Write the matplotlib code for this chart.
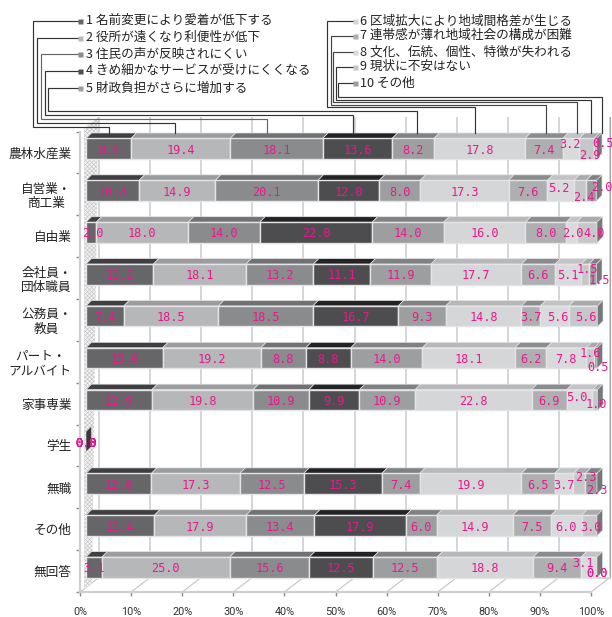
import numpy as np
import matplotlib
matplotlib.use("Agg")
import matplotlib.pyplot as plt
from matplotlib.lines import Line2D
from matplotlib.patches import Polygon
from matplotlib.transforms import Affine2D

plt.rcParams['font.family'] = ['Noto Sans CJK JP', 'DejaVu Sans']
plt.rcParams['hatch.linewidth'] = 0.5

# ---------- data ----------
categories = ['農林水産業', '自営業・\n商工業', '自由業', '会社員・\n団体職員', '公務員・\n教員',
              'パート・\nアルバイト', '家事専業', '学生', '無職', 'その他', '無回答']
series_names = ['1 名前変更により愛着が低下する', '2 役所が遠くなり利便性が低下', '3 住民の声が反映されにくい',
                '4 きめ細かなサービスが受けにくくなる', '5 財政負担がさらに増加する',
                '6 区域拡大により地域間格差が生じる', '7 連帯感が薄れ地域社会の構成が困難',
                '8 文化、伝統、個性、特徴が失われる', '9 現状に不安はない', '10 その他']
row_farm = [8.8, 19.4, 18.1, 13.6, 8.2, 17.8, 7.4, 3.2, 2.9, 0.5]
row_self = [10.4, 14.9, 20.1, 12.0, 8.0, 17.3, 7.6, 5.2, 2.4, 2.0]
row_free = [2.0, 18.0, 14.0, 22.0, 14.0, 16.0, 8.0, 2.0, 4.0, 0.0]
row_office = [13.2, 18.1, 13.2, 11.1, 11.9, 17.7, 6.6, 5.1, 1.5, 1.5]
row_public = [7.4, 18.5, 18.5, 16.7, 9.3, 14.8, 3.7, 5.6, 5.6, 0.0]
row_part = [15.0, 19.2, 8.8, 8.8, 14.0, 18.1, 6.2, 7.8, 1.6, 0.5]
row_home = [12.9, 19.8, 10.9, 9.9, 10.9, 22.8, 6.9, 5.0, 1.0, 0.0]
row_student = [0.0] * 10
row_none = [12.8, 17.3, 12.5, 15.3, 7.4, 19.9, 6.5, 3.7, 2.3, 2.3]
row_other = [13.4, 17.9, 13.4, 17.9, 6.0, 14.9, 7.5, 6.0, 3.0, 0.0]
row_noans = [3.1, 25.0, 15.6, 12.5, 12.5, 18.8, 9.4, 3.1, 0.0, 0.0]
rows = [row_farm, row_self, row_free, row_office, row_public, row_part,
        row_home, row_student, row_none, row_other, row_noans]
x_ticks = list(range(0, 101, 10))
zero_label_rows = [7, 10]

# ---------- style ----------
front_colors = ['#666668', '#b6b7b9', '#8a8b8d', '#4d4d4f', '#9d9ea0',
                '#d5d6d8', '#aeafb1', '#d9dadc', '#c6c7c9', '#9a9b9d']
top_colors = ['#3f3f41', '#9b9c9e', '#707173', '#232325', '#808183',
              '#b7b8ba', '#8b8c8e', '#c2c3c5', '#a9aaac', '#808183']
side_color = '#77787a'
side_empty = '#3a3a3c'
edge = '#e4e4e6'
pink = '#e8188f'
# label nudges in pixels: (row, series): (right, down)
nudges = {(0, 7): (-1, -6), (0, 8): (3.5, 5), (0, 9): (7.5, -7),
          (1, 7): (-2, -4), (1, 8): (4, 5), (1, 9): (10, -5),
          (2, 0): (2, 0), (2, 7): (1, 0), (2, 8): (7, 0),
          (3, 8): (2, -6.5), (3, 9): (6.4, 5),
          (4, 7): (3, 0), (4, 8): (2.5, 0),
          (5, 8): (0, -6), (5, 9): (2.5, 7.7),
          (6, 7): (-3, -4), (6, 8): (1.5, 3),
          (8, 8): (6, -8), (8, 9): (5.7, 5.7),
          (9, 8): (2, 0),
          (10, 7): (-6, -5.5), (10, 8): (0, 4.5), (10, 9): (0, 4.5)}

W, H = 612, 617
fig = plt.figure(figsize=(W / 100, H / 100), dpi=100, facecolor='white')
ax_l, ax_r, ax_t, ax_b = 80, 591, 131.5, 592
ax = fig.add_axes([ax_l / W, 1 - ax_b / H, (ax_r - ax_l) / W, (ax_b - ax_t) / H])
ax.set_xlim(0, 100)
ax.set_ylim(len(categories), 0)
ax.patch.set_alpha(0)
px_x = (ax_r - ax_l) / 100          # pixels per percent
px_y = (ax_b - ax_t) / len(categories)  # pixels per row


def dx(p):
    return p / px_x


def dy(p):
    return p / px_y


n = len(categories)
# axes furniture
for s in ['top', 'right']:
    ax.spines[s].set_visible(False)
for s in ['left', 'bottom']:
    ax.spines[s].set_color('#cfcfd1')
    ax.spines[s].set_linewidth(1.6)
ax.set_xticks(x_ticks)
ax.set_xticklabels([f'{v}%' for v in x_ticks], fontfamily='Roboto', fontsize=7.8, color='#333333')
ax.tick_params(axis='x', length=3, width=1, color='#8c8c8e', pad=8)
ax.set_yticks(np.arange(n) + 0.5)
ax.set_yticklabels(categories, fontsize=9.1, color='#222222', multialignment='center', linespacing=1.15)
ax.tick_params(axis='y', which='major', length=0, pad=6)
ax.set_yticks(np.arange(n + 1), minor=True)
ax.tick_params(axis='y', which='minor', length=3, width=1, color='#8c8c8e')

# back wall, floor, left wall
DEPTH_X, DEPTH_Y = dx(19), dy(14.5)
for v in x_ticks:
    ax.plot([v + DEPTH_X, v + DEPTH_X], [-DEPTH_Y, n - DEPTH_Y], color='#d2d2d4', lw=1.3,
            clip_on=False, zorder=1, solid_capstyle='butt')
    ax.plot([v, v + DEPTH_X], [n, n - DEPTH_Y], color='#c4c4c6', lw=0.8, clip_on=False, zorder=1)
ax.plot([100 + DEPTH_X] * 2, [-DEPTH_Y, n - DEPTH_Y], color='#a6a6a8', lw=0.8, clip_on=False, zorder=1)
ax.plot([DEPTH_X, 100 + DEPTH_X], [n - DEPTH_Y] * 2, color='#d2d2d4', lw=1.3, clip_on=False, zorder=1)
ax.add_patch(Polygon([(dx(4), -dy(3)), (dx(18), -DEPTH_Y), (dx(12), n - dy(9)), (dx(4), n - dy(3))],
                     closed=True, facecolor='#f4f4f4', edgecolor='#c6c6c8', hatch='xxxxxxxx', lw=0,
                     clip_on=False, zorder=1.5))

# bars
FRONT_X, FRONT_Y = dx(6), dy(3.7)
BAR_H = dy(20.5)
TOP_X, TOP_Y = dx(5.5), dy(5.5)
for i, row in enumerate(rows):
    yc = i + 0.5 - FRONT_Y
    y0, y1 = yc - BAR_H / 2, yc + BAR_H / 2
    left = 0.0
    for j, v in enumerate(row):
        x0 = left + FRONT_X
        if v > 0:
            ax.add_patch(Polygon([(x0, y0), (x0 + v, y0), (x0 + v + TOP_X, y0 - TOP_Y), (x0 + TOP_X, y0 - TOP_Y)],
                                 closed=True, facecolor=top_colors[j], edgecolor=edge, lw=0.5,
                                 clip_on=False, zorder=3))
            ax.barh(yc, v, left=x0, height=BAR_H, color=front_colors[j], edgecolor=edge, linewidth=1.0,
                    clip_on=False, zorder=3)
        left += v
    x_end = left + FRONT_X
    ax.add_patch(Polygon([(x_end, y0), (x_end + TOP_X, y0 - TOP_Y), (x_end + TOP_X, y1 - TOP_Y), (x_end, y1)],
                         closed=True, facecolor=side_color if left > 0 else side_empty, edgecolor=edge, lw=0.4,
                         clip_on=False, zorder=3))
    # value labels
    left = 0.0
    for j, v in enumerate(row):
        mid = left + v / 2 + FRONT_X
        left += v
        if v == 0 and i not in zero_label_rows:
            continue
        nx, ny = nudges.get((i, j), (0, 0))
        ax.text(mid + dx(nx), yc + dy(ny + 1.5), f'{v:.1f}', ha='center', va='center',
                family='DejaVu Sans Mono', fontsize=8.6, color=pink, clip_on=False, zorder=5)

# legend with leader lines, laid out in image pixels
pix = Affine2D().scale(1 / W, -1 / H).translate(0, 1) + fig.transFigure
leg_y_left = [20.7, 37.7, 54, 71, 88]
leg_y_right = [20.7, 35.7, 51.7, 66.7, 83.3]
bend_x = [32.5, 36.5, 41, 45, 48, 327, 330.5, 333, 336, 337.5]
bend_y = [126.7, 122.7, 119, 115, 110.7, 107.3, 105, 102.3, 100, 96.7]
drop_x = [109, 175, 267, 353, 417, 475, 545.5, 576.5, 591, 601.7]
lead_colors = ['#333333', '#333333', '#666666', '#333333', '#333333',
               '#333333', '#444444', '#444444', '#333333', '#333333']
leg_y = leg_y_left + leg_y_right
for k, name in enumerate(series_names):
    left_block = k < 5
    mx = 80 if left_block else 354.5
    tx = 86 if left_block else 360
    fig.add_artist(Line2D([mx - 2, bend_x[k], bend_x[k], drop_x[k], drop_x[k]],
                          [leg_y[k], leg_y[k], bend_y[k], bend_y[k], 133],
                          transform=pix, color=lead_colors[k], lw=0.85, solid_joinstyle='miter', zorder=2))
    fig.add_artist(Line2D([mx], [leg_y[k]], transform=pix, marker='s', ms=3.6, mfc=front_colors[k],
                          mec='none', ls='none', zorder=3))
    fig.text(tx, leg_y[k], name, transform=pix, fontsize=9.1, color='#222222', ha='left', va='center')

fig.savefig('out.png', dpi=100, facecolor='white')
